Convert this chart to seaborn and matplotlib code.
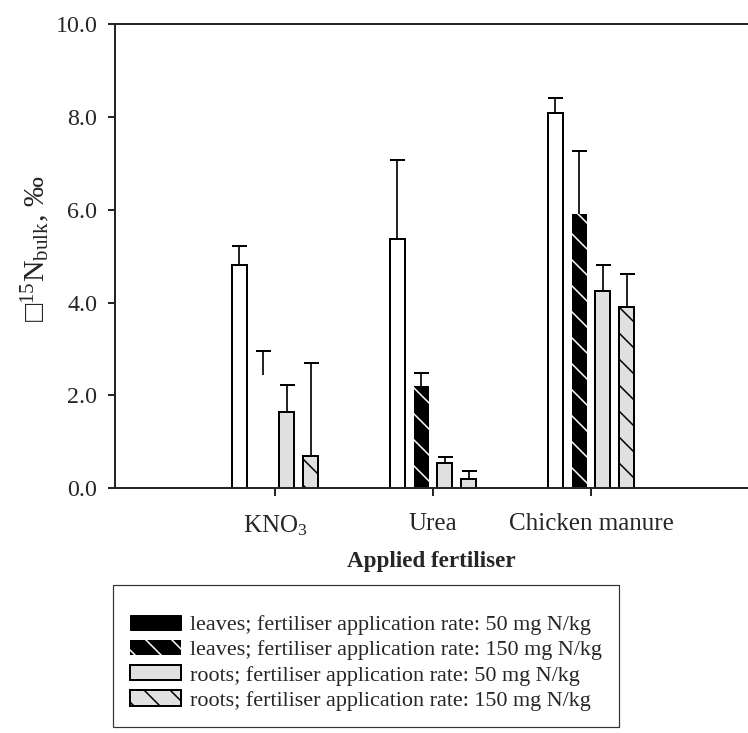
import numpy as np
import pandas as pd
import matplotlib
matplotlib.use("Agg")
import matplotlib.pyplot as plt
from matplotlib.patches import Patch
import seaborn as sns

# ---- data -------------------------------------------------------------
fertilisers = ["KNO$_3$", "Urea", "Chicken manure"]
series = [
    "leaves; fertiliser application rate: 50 mg N/kg",
    "leaves; fertiliser application rate: 150 mg N/kg",
    "roots; fertiliser application rate: 50 mg N/kg",
    "roots; fertiliser application rate: 150 mg N/kg",
]
leaves_50 = [4.80, 5.37, 8.08]
leaves_150 = [2.44, 2.21, 5.90]
roots_50 = [1.63, 0.53, 4.24]
roots_150 = [0.68, 0.20, 3.90]
leaves_50_err = [0.41, 1.71, 0.33]
leaves_150_err = [0.52, 0.28, 1.36]
roots_50_err = [0.59, 0.14, 0.57]
roots_150_err = [2.02, 0.16, 0.72]
yticks = [0, 2, 4, 6, 8, 10]

values = [leaves_50, leaves_150, roots_50, roots_150]
errors = [leaves_50_err, leaves_150_err, roots_50_err, roots_150_err]

rows = []
for s, vals in zip(series, values):
    for f, v in zip(fertilisers, vals):
        rows.append({"fertiliser": f, "series": s, "value": v})
df = pd.DataFrame(rows)

# ---- style ------------------------------------------------------------
sns.set_style("ticks")
plt.rcParams["font.family"] = ["Liberation Serif", "DejaVu Serif"]
plt.rcParams["mathtext.fontset"] = "custom"
plt.rcParams["mathtext.rm"] = "Liberation Serif"
plt.rcParams["mathtext.it"] = "Liberation Serif:italic"
plt.rcParams["mathtext.bf"] = "Liberation Serif:bold"
plt.rcParams["mathtext.fallback"] = "stix"
plt.rcParams["hatch.linewidth"] = 0.7

DPI = 156
W, H = 748, 733
px = 72.0 / DPI  # points per pixel

fig = plt.figure(figsize=(W / DPI, H / DPI), dpi=DPI)
ax = fig.add_axes([115 / W, 1 - 488 / H, (W - 115) / W, (488 - 24.3) / H])

palette = ["#ffffff", "#000000", "#e0e0e0", "#e0e0e0"]
sns.barplot(data=df, x="fertiliser", y="value", hue="series",
            hue_order=series, order=fertilisers, palette=palette,
            saturation=1, edgecolor="black", linewidth=2 * px,
            width=0.6, gap=0.375, errorbar=None, legend=False, ax=ax)

bar_conts = list(ax.containers)

HATCH = "\\\\"
for p in bar_conts[1]:
    p.set_hatch(HATCH)
    p.set_edgecolor("white")
    p.set_linewidth(0)
for p in bar_conts[3]:
    p.set_hatch(HATCH)
# missing bar for KNO3 leaves 150 (only error bar visible)
bar_conts[1][0].set_visible(False)

# error bars (upper only)
for i, cont in enumerate(bar_conts):
    xs = [p.get_x() + p.get_width() / 2 for p in cont]
    eb = ax.errorbar(xs, values[i], yerr=[np.zeros(len(xs)), errors[i]],
                     fmt="none", ecolor="black", elinewidth=1.7 * px,
                     capsize=7.5 * px, capthick=2 * px, zorder=3)
    for cl in eb[1]:
        if np.allclose(cl.get_ydata(), values[i]):
            cl.set_visible(False)

# axes
ax.set_ylim(0, 10)
ax.set_xlim((115 - 275) / 158, (W - 275) / 158)
ax.set_yticks(yticks)
ax.set_yticklabels([f"{t:.1f}" for t in yticks])
ax.spines["right"].set_visible(False)
for side in ["left", "bottom", "top"]:
    ax.spines[side].set_linewidth(2 * px)
ax.tick_params(axis="both", direction="out", length=7.5 * px, width=2 * px)
ax.tick_params(axis="y", labelsize=24 * px, pad=10 * px)
ax.tick_params(axis="x", labelsize=25 * px, pad=18 * px)

ax.set_xlabel("Applied fertiliser", fontsize=23 * px, fontweight="bold")
ax.xaxis.label.set_va("center")
ax.xaxis.set_label_coords(0.5, -(562 - 488) / (488 - 24.3))

ax.set_ylabel("□$^{15}$N$_{\\mathrm{bulk}}$, ‰", fontsize=30 * px)
ax.yaxis.set_label_coords((52 - 115) / (W - 115), (488 - 249) / (488 - 24.3))

# legend
handles = [
    Patch(facecolor="black", edgecolor="black", linewidth=1 * px),
    Patch(facecolor="black", edgecolor="white", hatch=HATCH, linewidth=0),
    Patch(facecolor="#e0e0e0", edgecolor="black", linewidth=2 * px),
    Patch(facecolor="#e0e0e0", edgecolor="black", hatch=HATCH, linewidth=2 * px),
]
leg = fig.legend(handles, series, loc="upper left",
                 bbox_to_anchor=(113 / W, 1 - 585 / H),
                 bbox_transform=fig.transFigure,
                 fontsize=22.2 * px, title=" ", title_fontsize=4.3,
                 frameon=True, fancybox=False, shadow=False,
                 borderpad=0.75, handlelength=2.32, handleheight=0.68,
                 handletextpad=0.41, labelspacing=0.22, borderaxespad=0)
leg.get_frame().set_edgecolor("black")
leg.get_frame().set_linewidth(1.2 * px)

fig.savefig("out.png", dpi=DPI)
